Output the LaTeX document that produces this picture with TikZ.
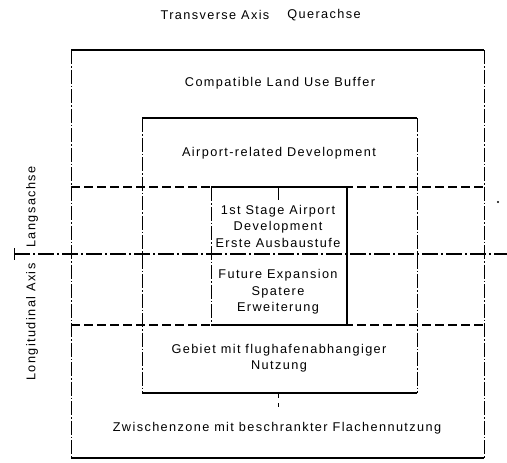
\documentclass[tikz,border=0pt]{standalone}
\usepackage{fontspec}
\setmainfont{Liberation Sans}[LetterSpace=11]
\begin{document}
\begin{tikzpicture}[x=1pt,y=-1pt,
  lbl/.style={inner sep=0pt,align=center,font=\fontsize{12.7}{16.5}\selectfont},
  solidline/.style={line width=1.2pt},
  sideline/.style={line width=0.9pt,dash pattern=on 14pt off 2pt on 1.5pt off 2pt},
  dashline/.style={line width=1.2pt,dash pattern=on 9pt off 4pt},
  axisline/.style={line width=1.1pt,dash pattern=on 16pt off 3pt on 2pt off 3pt}]
\useasboundingbox (0,0) rectangle (507,463);
% corners
\coordinate (oTL) at (71,50);  \coordinate (oTR) at (484,50);
\coordinate (oBL) at (71,458); \coordinate (oBR) at (484,458);
\coordinate (mTL) at (142,118); \coordinate (mTR) at (417,118);
\coordinate (mBL) at (142,393); \coordinate (mBR) at (417,393);
\coordinate (iTL) at (211,187); \coordinate (iTR) at (347,187);
\coordinate (iBL) at (211,325); \coordinate (iBR) at (347,325);
\coordinate (dL1) at (71,187); \coordinate (dR1) at (484,187);
\coordinate (dL2) at (71,325); \coordinate (dR2) at (484,325);
\coordinate (aL) at (14,254); \coordinate (aR) at (507,254);
% outer box
\draw[solidline] (oTL) -- (oTR);
\draw[solidline] (oBL) -- (oBR);
\draw[sideline] (oTL) -- (oBL);
\draw[sideline] (oTR) -- (oBR);
% middle box
\draw[solidline] (mTL) -- (mTR);
\draw[solidline] (mBL) -- (mBR);
\draw[sideline] (mTL) -- (mBL);
\draw[sideline] (mTR) -- (mBR);
% dashed horizontals
\draw[dashline] (dL1) -- (dR1);
\draw[dashline] (dL2) -- (dR2);
% inner box
\draw[solidline] (iTL) -- (iTR);
\draw[solidline] (iBL) -- (iBR);
\draw[sideline] (iTL) -- (iBL);
\draw[solidline] (iTR) -- (iBR);
% longitudinal axis
\draw[axisline] (aL) -- (aR);
\coordinate (tk1) at (14,248); \coordinate (tk2) at (14,260);
\draw[line width=1pt] (tk1) -- (tk2);
% transverse axis ticks
\coordinate (c1) at (278,187); \coordinate (c2) at (278,200);
\draw[line width=0.9pt] (c1) -- (c2);
\coordinate (c3) at (278,393); \coordinate (c4) at (278,398);
\draw[line width=0.9pt] (c3) -- (c4);
\coordinate (c5) at (278,403); \coordinate (c6) at (278,407);
\draw[line width=0.9pt] (c5) -- (c6);
\fill (498,202) circle (1.2pt);
% texts
\node[lbl] (tA) at (215,15) {Transverse Axis};
\node[lbl] (tQ) at (324,15) {Querachse};
\node[lbl] (comp) at (280,83) {Compatible Land Use Buffer};
\node[lbl] (arel) at (279,153) {Airport-related Development};
\node[lbl] (first) at (278,226) {1st Stage Airport\\Development\\Erste Ausbaustufe};
\node[lbl] (fut) at (278,292) {Future Expansion\\Spatere\\Erweiterung};
\node[lbl] (geb) at (279,358) {Gebiet mit flughafenabhangiger\\Nutzung};
\node[lbl] (zw) at (277,428) {Zwischenzone mit beschrankter Flachennutzung};
\node[lbl,rotate=90] (long) at (32,322) {Longitudinal Axis};
\node[lbl,rotate=90] (lang) at (32,207) {Langsachse};
\end{tikzpicture}
\end{document}
